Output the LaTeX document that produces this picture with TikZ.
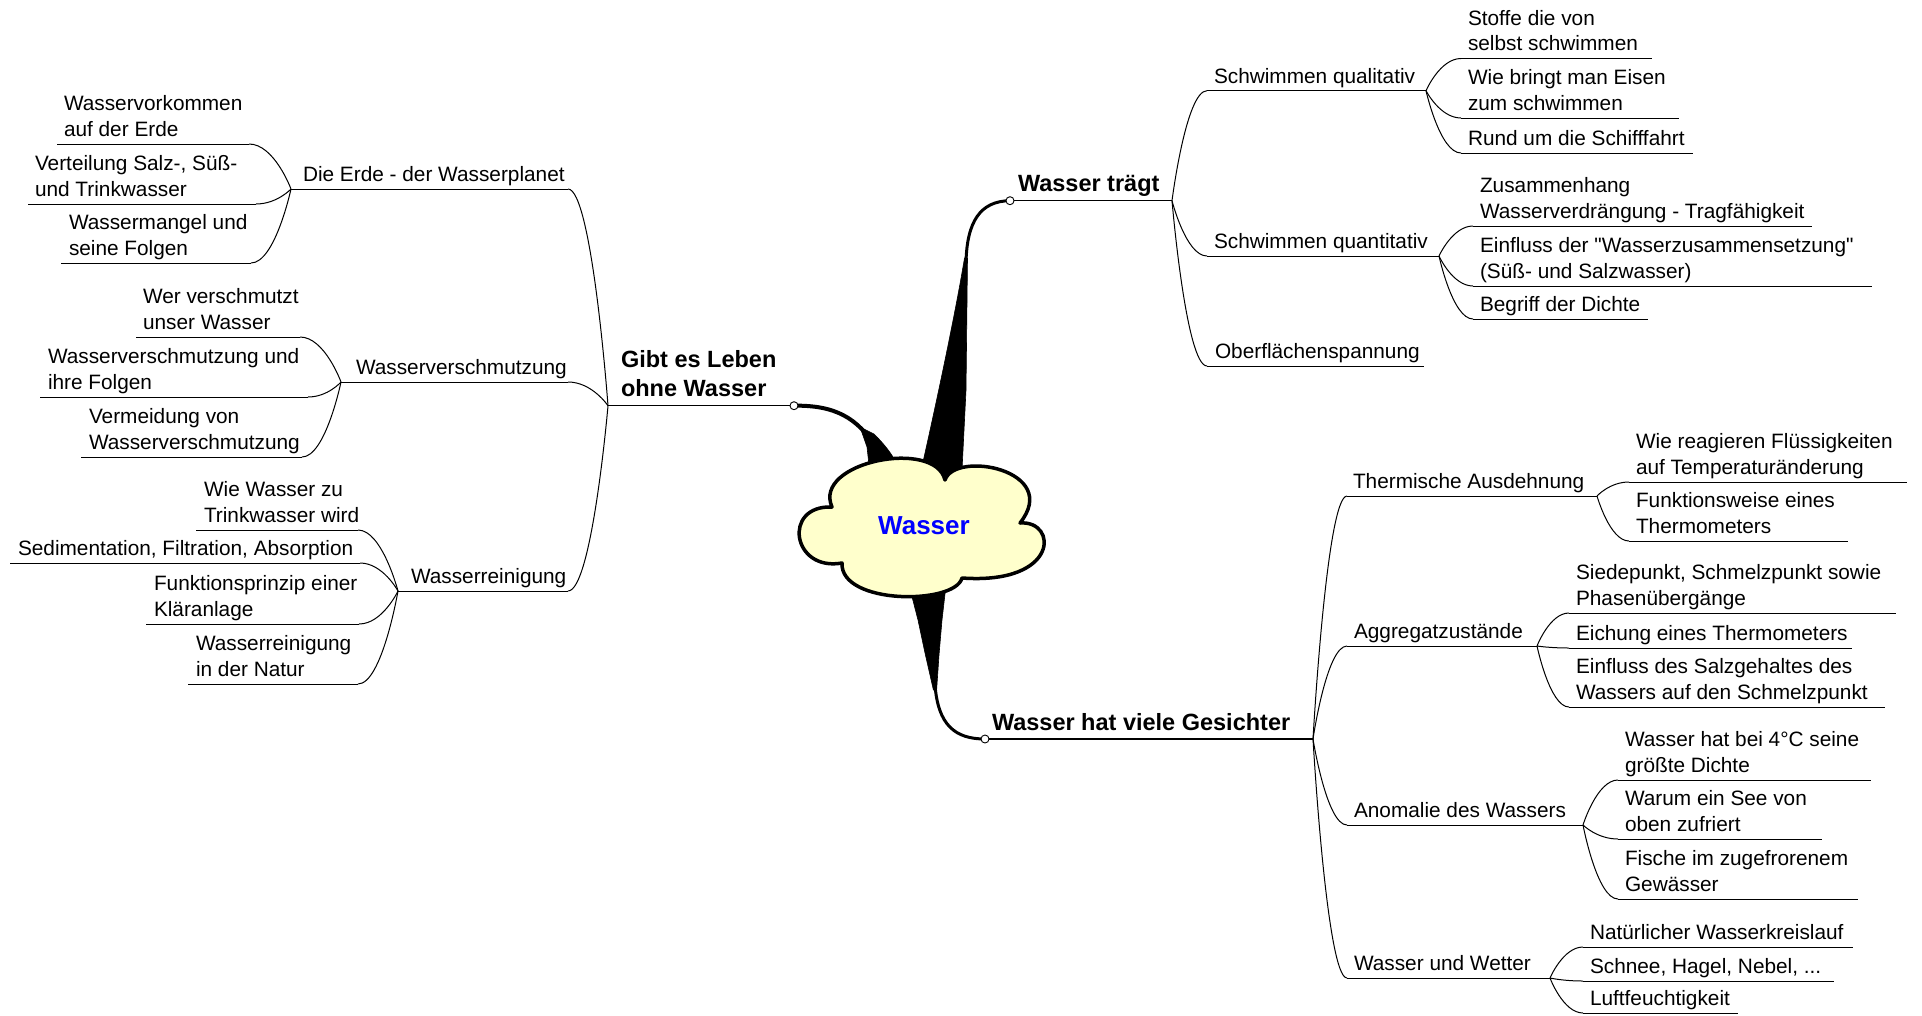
\documentclass[tikz,border=0pt]{standalone}
\usepackage{fontspec}
\setmainfont{Liberation Sans}[Ligatures=TeXOff]
\usetikzlibrary{calc}
\definecolor{cloudfill}{RGB}{255,255,204}
\newcommand\regf{\fontsize{20.8}{25.5}\selectfont}
\newcommand\boldf{\fontsize{23.5}{29.5}\selectfont\bfseries}
% #1 style, #2 name, #3 x, #4 y (underline), #5 underline width, #6 text indent, #7 text
\newcommand\mmnode[7]{%
  \node[tnode,#1] (#2) at (#3,#4) {\makebox[#5pt][l]{\hspace*{#6pt}\begin{tabular}[b]{@{}l@{}}#7\end{tabular}}};
  \draw[ul-#1] (#2.south west) -- (#2.south east);}
\newcommand\mmlink[2]{\draw[conn] let \p1=(#1), \p2=(#2) in (\p1) .. controls (\p1) and ({\x2+0.6*(\x1-\x2)},\y2) .. (\p2);}
\begin{document}
\begin{tikzpicture}[x=1pt,y=-1pt,
  tnode/.style={anchor=south west,inner sep=0pt,outer sep=0pt},
  reg/.style={font=\regf},
  bld/.style={font=\boldf},
  ul-reg/.style={line width=1pt},
  ul-bld/.style={line width=1.5pt},
  conn/.style={line width=1pt},
  dot/.style={circle,draw,fill=white,inner sep=0pt,minimum size=8pt,line width=0.9pt},
  wedge/.style={fill=black,draw=black,line width=0.6pt,line join=round},
  stem/.style={draw=black,line cap=round}]
\fill[white] (0,0) rectangle (1922,1015);
\useasboundingbox (0,0) rectangle (1922,1015);

% ---------- left side ----------
\mmnode{bld}{gibt}{608}{405.7}{186}{13}{Gibt es Leben\\ohne Wasser}
\mmnode{reg}{erde}{291}{189}{277}{12}{Die Erde - der Wasserplanet}
\mmnode{reg}{versch}{341}{382}{227}{15}{Wasserverschmutzung}
\mmnode{reg}{rein}{398}{591}{170}{13}{Wasserreinigung}
\mmnode{reg}{e1}{57}{144}{192}{7}{Wasservorkommen\\auf der Erde}
\mmnode{reg}{e2}{28}{204}{228}{7}{Verteilung Salz-, Süß-\\und Trinkwasser}
\mmnode{reg}{e3}{61}{263}{190}{8}{Wassermangel und\\seine Folgen}
\mmnode{reg}{v1}{136}{337}{164}{7}{Wer verschmutzt\\unser Wasser}
\mmnode{reg}{v2}{40}{397}{268}{8}{Wasserverschmutzung und\\ihre Folgen}
\mmnode{reg}{v3}{81}{457}{221}{8}{Vermeidung von\\Wasserverschmutzung}
\mmnode{reg}{r1}{196}{530}{162}{8}{Wie Wasser zu\\Trinkwasser wird}
\mmnode{reg}{r2}{10}{563}{350}{8}{Sedimentation, Filtration, Absorption}
\mmnode{reg}{r3}{146}{624}{213}{8}{Funktionsprinzip einer\\Kläranlage}
\mmnode{reg}{r4}{188}{684}{170}{8}{Wasserreinigung\\in der Natur}

% ---------- right side ----------
\mmnode{bld}{traegt}{1010}{200.7}{162}{8}{Wasser trägt}
\mmnode{reg}{q1}{1207}{90.7}{219}{7}{Schwimmen qualitativ}
\mmnode{reg}{q2}{1207}{256}{232}{7}{Schwimmen quantitativ}
\mmnode{reg}{q3}{1207}{366}{217}{8}{Oberflächenspannung}
\mmnode{reg}{q11}{1461}{58.5}{191}{7}{Stoffe die von\\selbst schwimmen}
\mmnode{reg}{q12}{1461}{118}{218}{7}{Wie bringt man Eisen\\zum schwimmen}
\mmnode{reg}{q13}{1461}{153}{232}{7}{Rund um die Schifffahrt}
\mmnode{reg}{q21}{1473}{226}{339}{7}{Zusammenhang\\Wasserverdrängung - Tragfähigkeit}
\mmnode{reg}{q22}{1473}{286}{399}{7}{Einfluss der "Wasserzusammensetzung"\\(Süß- und Salzwasser)}
\mmnode{reg}{q23}{1473}{319}{175}{7}{Begriff der Dichte}
\mmnode{bld}{ges}{985}{739}{328}{7}{Wasser hat viele Gesichter}
\mmnode{reg}{g1}{1347}{496}{250}{6}{Thermische Ausdehnung}
\mmnode{reg}{g2}{1347}{646}{190}{7}{Aggregatzustände}
\mmnode{reg}{g3}{1347}{825}{236}{7}{Anomalie des Wassers}
\mmnode{reg}{g4}{1347}{978}{203}{7}{Wasser und Wetter}
\mmnode{reg}{g11}{1629}{482}{278}{7}{Wie reagieren Flüssigkeiten\\auf Temperaturänderung}
\mmnode{reg}{g12}{1629}{541}{219}{7}{Funktionsweise eines\\Thermometers}
\mmnode{reg}{g21}{1569}{613}{327}{7}{Siedepunkt, Schmelzpunkt sowie\\Phasenübergänge}
\mmnode{reg}{g22}{1569}{648}{283}{7}{Eichung eines Thermometers}
\mmnode{reg}{g23}{1569}{707}{316}{7}{Einfluss des Salzgehaltes des\\Wassers auf den Schmelzpunkt}
\mmnode{reg}{g31}{1618}{780}{253}{7}{Wasser hat bei 4°C seine\\größte Dichte}
\mmnode{reg}{g32}{1618}{839}{204}{7}{Warum ein See von\\oben zufriert}
\mmnode{reg}{g33}{1618}{899}{240}{7}{Fische im zugefrorenem\\Gewässer}
\mmnode{reg}{g41}{1583}{947}{270}{7}{Natürlicher Wasserkreislauf}
\mmnode{reg}{g42}{1583}{981}{251}{7}{Schnee, Hagel, Nebel, ...}
\mmnode{reg}{g43}{1583}{1013}{155}{7}{Luftfeuchtigkeit}

% ---------- connectors ----------
\mmlink{gibt.south west}{erde.south east}
\mmlink{gibt.south west}{versch.south east}
\mmlink{gibt.south west}{rein.south east}
\mmlink{erde.south west}{e1.south east}
\mmlink{erde.south west}{e2.south east}
\mmlink{erde.south west}{e3.south east}
\mmlink{versch.south west}{v1.south east}
\mmlink{versch.south west}{v2.south east}
\mmlink{versch.south west}{v3.south east}
\mmlink{rein.south west}{r1.south east}
\mmlink{rein.south west}{r2.south east}
\mmlink{rein.south west}{r3.south east}
\mmlink{rein.south west}{r4.south east}
\mmlink{traegt.south east}{q1.south west}
\mmlink{traegt.south east}{q2.south west}
\mmlink{traegt.south east}{q3.south west}
\mmlink{q1.south east}{q11.south west}
\mmlink{q1.south east}{q12.south west}
\mmlink{q1.south east}{q13.south west}
\mmlink{q2.south east}{q21.south west}
\mmlink{q2.south east}{q22.south west}
\mmlink{q2.south east}{q23.south west}
\mmlink{ges.south east}{g1.south west}
\mmlink{ges.south east}{g2.south west}
\mmlink{ges.south east}{g3.south west}
\mmlink{ges.south east}{g4.south west}
\mmlink{g1.south east}{g11.south west}
\mmlink{g1.south east}{g12.south west}
\mmlink{g2.south east}{g21.south west}
\mmlink{g2.south east}{g22.south west}
\mmlink{g2.south east}{g23.south west}
\mmlink{g3.south east}{g31.south west}
\mmlink{g3.south east}{g32.south west}
\mmlink{g3.south east}{g33.south west}
\mmlink{g4.south east}{g41.south west}
\mmlink{g4.south east}{g42.south west}
\mmlink{g4.south east}{g43.south west}

% ---------- tapered main branches ----------
% to "Wasser traegt"
\draw[stem,line width=3pt] (traegt.south west) .. controls (980,201) and (967,222) .. (966,262);
\path[wedge] (964.5,258) -- (967.5,258) -- (966,390) -- (962,470) -- (945,485) -- (923,462)
  .. controls (938,395) and (956,310) .. (964.5,258) -- cycle;
% to "Gibt es Leben"
\draw[stem,line width=4pt] (gibt.south east) .. controls (835,405) and (858,418) .. (876,448);
\path[wedge] (860,427) -- (874,434) .. controls (882,442) and (888,449) .. (893,457)
  -- (898,472) -- (870,474) -- (867,447) -- cycle;
% to "Wasser hat viele Gesichter"
\draw[stem,line width=3pt] (ges.south west) .. controls (955,739) and (938,725) .. (935,685);
\path[wedge] (909,585) -- (946,585) -- (942,620) -- (939,655) -- (936.6,690) -- (933.4,690)
  -- (925,653) -- (918,620) -- cycle;

% ---------- central cloud ----------
\draw[line width=3.5pt,fill=cloudfill,line join=round]
  (832,507) .. controls (812,462) and (935,438) .. (945,480)
  .. controls (955,450) and (1062,470) .. (1020,523)
  .. controls (1058,520) and (1060,585) .. (962,578)
  .. controls (955,605) and (840,605) .. (842,563)
  .. controls (792,572) and (782,505) .. (832,507) -- cycle;
\node[font=\fontsize{26}{30}\selectfont\bfseries,text=blue,anchor=base,inner sep=0pt] (wasser) at (924,534) {Wasser};

% ---------- small circles ----------
\node[dot] (d1) at (gibt.south east) {};
\node[dot] (d2) at (traegt.south west) {};
\node[dot] (d3) at (ges.south west) {};
\end{tikzpicture}
\end{document}
